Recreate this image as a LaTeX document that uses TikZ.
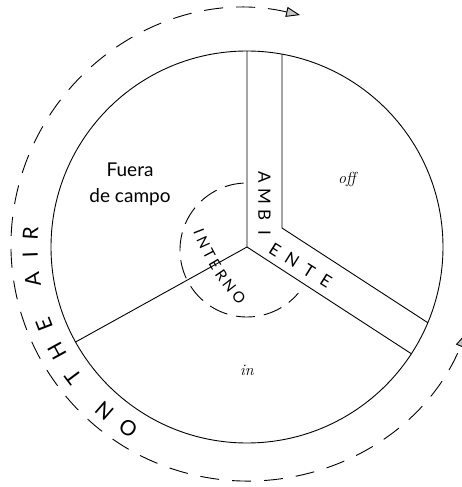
\documentclass[tikz,border=0pt]{standalone}
\usepackage{fontspec}
\newfontfamily\lato{Lato}
\usetikzlibrary{arrows.meta,calc}
\begin{document}
\begin{tikzpicture}[x=1pt,y=1pt,
  thinline/.style={line width=0.9pt, black},
  innerdash/.style={line width=0.9pt, dash pattern=on 19pt off 9pt},
  outerdash/.style={line width=0.9pt, dash pattern=on 19pt off 13pt},
  airletter/.style={font=\lato\fontsize{21}{21}\selectfont, inner sep=0pt},
  ambletter/.style={font=\lato\fontsize{17}{17}\selectfont, inner sep=0pt},
  intletter/.style={font=\lato\fontsize{15}{15}\selectfont, inner sep=0pt},
  label/.style={font=\lato\fontsize{19}{19}\selectfont, inner sep=0pt, anchor=base},
  italabel/.style={font=\itshape\fontsize{16}{16}\selectfont, inner sep=0pt},
]
\useasboundingbox (-247,-240) rectangle (214,247);
% main circle and sectors
\coordinate (C) at (0,0);
\draw[thinline] (C) circle[radius=196];
\coordinate (Vtop) at (90:196);
\coordinate (Btop) at (35,192.9);
\coordinate (Bcorner) at (35,19);
\coordinate (Bend) at (180.8,-75.7);
\coordinate (Rend) at (-33:196);
\coordinate (Lend) at (209:196);
\draw[thinline] (Vtop) -- (C) -- (Rend);
\draw[thinline] (C) -- (Lend);
\draw[thinline] (Btop) -- (Bcorner) -- (Bend);
% inner dashed arc
\coordinate (IC) at (0,-3);
\draw[innerdash] ($(IC)+(93:67)$) arc[start angle=93, end angle=320, radius=67];
% outer dashed arc with arrows
\coordinate (OC) at (0,2);
\draw[outerdash, {Triangle[length=14pt,width=10pt,fill=gray!45]}-{Triangle[length=14pt,width=10pt,fill=gray!45]}]
  ($(OC)+(77:236)$) arc[start angle=77, end angle=338, radius=236];
% ON THE AIR
\foreach \l/\a [count=\i] in {O/236.8, N/228.9, T/216.8, H/208.8, E/200.8, A/188.7, I/182.1, R/176.3}
  \node[airletter, rotate=\a-90] (air\i) at (\a:217) {\l};
% AMBIENTE
\foreach \l/\x/\y/\r [count=\i] in {A/17.5/70/-90, M/17.5/51/-90, B/17.5/32/-90, I/17.5/14/-90,
    E/28/-3/-32, N/45/-13/-32, T/62/-23.5/-32, E/79/-34/-32}
  \node[ambletter, rotate=\r] (amb\i) at (\x,\y) {\l};
% INTERNO
\foreach \l/\x/\y/\r [count=\i] in {I/-48/15/-68.8, N/-43.7/4.7/-65.8, T/-37.9/-7.3/-62.2,
    E/-32/-17.6/-59, R/-25.5/-27.9/-55.6, N/-17.5/-38.7/-52, O/-8/-50/-48}
  \node[intletter, rotate=\r] (int\i) at (\x,\y) {\l};
% labels
\node[label] (fuera) at (-117,70) {Fuera};
\node[label] (campo) at (-117,44) {de campo};
\node[italabel] (off) at (100,67) {off};
\node[italabel] (in) at (0,-123) {in};
\end{tikzpicture}
\end{document}
